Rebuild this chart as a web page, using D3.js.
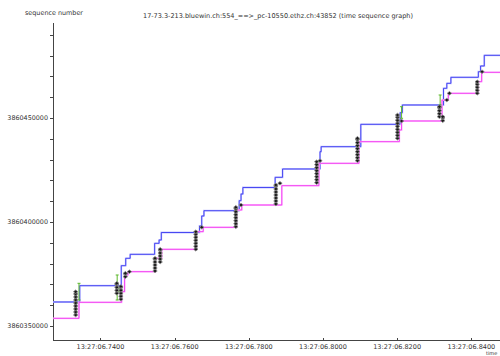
<!DOCTYPE html>
<html><head><meta charset="utf-8">
<script src="https://cdn.jsdelivr.net/npm/d3@7/dist/d3.min.js"></script>
<style>
html,body{margin:0;padding:0;background:#fff;}
svg{display:block;}
text{font-family:"DejaVu Sans",sans-serif;fill:#333;}
</style></head>
<body>
<svg id="c" width="500" height="356"></svg>
<script>
// ---- data (time = seconds within 13:27, sequence numbers) ----
const titleText = "17-73.3-213.bluewin.ch:554_==>_pc-10550.ethz.ch:43852 (time sequence graph)";
const yAxisTitle = "sequence number";
const xAxisTitle = "time";

const xTickValues = [6.74, 6.76, 6.78, 6.80, 6.82, 6.84];
const xTickLabels = ["13:27:06.7400","13:27:06.7600","13:27:06.7800","13:27:06.8000","13:27:06.8200","13:27:06.8400"];
const yTickValues = [3860350000, 3860400000, 3860450000];
const yTickLabels = ["3860350000","3860400000","3860450000"];
const yMinorStep = 10000;

// receive window (blue) step line: [time, seq]
const windowLine = [
 [6.7272,3860361540],[6.7344,3860369380],[6.7456,3860378990],[6.7468,3860382550],
 [6.7480,3860384470],[6.7546,3860389760],[6.7558,3860391350],[6.7564,3860394950],
 [6.7667,3860398080],[6.7673,3860402890],[6.7679,3860405430],[6.7774,3860410240],
 [6.7779,3860413460],[6.7784,3860416590],[6.7871,3860421490],[6.7891,3860425480],
 [6.7992,3860433800],[6.7995,3860436200],[6.8102,3860446970],[6.8208,3860452550],
 [6.8214,3860456250],[6.8325,3860464280],[6.8334,3860466680],[6.8345,3860469570],
 [6.8419,3860472260],[6.8425,3860475000],[6.8435,3860480140],[6.8478,3860480140]
];
// ack line (magenta) step line: [time, seq]
const ackLine = [
 [6.7272,3860353700],[6.7342,3860361390],[6.7457,3860366490],[6.7465,3860374520],
 [6.7474,3860376110],[6.7548,3860382550],[6.7565,3860386880],[6.7658,3860395340],
 [6.7677,3860397450],[6.7767,3860405770],[6.7781,3860408170],[6.7889,3860417450],
 [6.7989,3860428220],[6.8097,3860438610],[6.8206,3860444230],[6.8212,3860448560],
 [6.8321,3860458650],[6.8338,3860461880],[6.8419,3860467450],[6.8428,3860471970],
 [6.8478,3860471970]
];
// data segment bursts (black): [time, lowSeq, highSeq]
const segmentBursts = [
 [6.7333,3860355290,3860366490],[6.7444,3860365720,3860370530],[6.7455,3860362840,3860369000],
 [6.7467,3860373700,3860375340],[6.7478,3860376110,3860376110],[6.7547,3860376440,3860382550],
 [6.7561,3860380770,3860386880],[6.7657,3860386880,3860395340],[6.7673,3860397450,3860397450],
 [6.7765,3860397740,3860407070],[6.7779,3860408170,3860408170],[6.7873,3860408650,3860417790],
 [6.7884,3860418610,3860418610],[6.7983,3860418890,3860428990],[6.7992,3860429470,3860429470],
 [6.8093,3860429470,3860440240],[6.8201,3860440240,3860451440],[6.8212,3860448560,3860448560],
 [6.8314,3860450630,3860455430],[6.8323,3860448700,3860450630],[6.8334,3860458650,3860458650],
 [6.8341,3860461880,3860461880],[6.8416,3860461880,3860467450],[6.8429,3860472260,3860472260]
];
const segmentSize = 1448;
// SACK blocks (green): [time, lowSeq, highSeq]
const sackBlocks = [
 [6.7342,3860362500,3860370530],[6.7445,3860362500,3860374520],[6.7451,3860366500,3860368000],
 [6.8212,3860449860,3860455430],[6.8316,3860456250,3860461060],[6.8322,3860448900,3860449900]
];

// ---- drawing ----
const svg = d3.select("#c");
const plotL = 53, plotR = 500, plotT = 23, plotB = 340;
const x = d3.scaleLinear().domain([6.72719, 6.84774]).range([plotL, plotR]);
const y = d3.scaleLinear().domain([3860343270, 3860495670]).range([plotB, plotT]);

// titles
svg.append("text").attr("x", 278).attr("y", 17.5).attr("text-anchor","middle")
  .style("font-size","6.6px").attr("textLength",270).attr("lengthAdjust","spacingAndGlyphs").text(titleText);
svg.append("text").attr("x", 25).attr("y", 15).style("font-size","6.6px")
  .attr("textLength",58).attr("lengthAdjust","spacingAndGlyphs").text(yAxisTitle);
svg.append("text").attr("x", 486).attr("y", 355.3).style("font-size","5px").text(xAxisTitle);

// axes
const ax = svg.append("g").attr("stroke","#444").attr("stroke-width",1).attr("shape-rendering","crispEdges");
ax.append("line").attr("x1",plotL+0.5).attr("x2",plotL+0.5).attr("y1",plotT).attr("y2",plotB+0.5);
ax.append("line").attr("x1",plotL).attr("x2",plotR).attr("y1",plotB+0.5).attr("y2",plotB+0.5);

const minorY = d3.range(Math.ceil(y.domain()[0]/yMinorStep)*yMinorStep, y.domain()[1], yMinorStep);
ax.selectAll(".ym").data(minorY).join("line")
  .attr("x1",plotL-3).attr("x2",plotL).attr("y1",d=>Math.round(y(d))+0.5).attr("y2",d=>Math.round(y(d))+0.5);
svg.selectAll(".yl").data(yTickValues).join("text")
  .attr("x",48).attr("y",d=>y(d)+2.4).attr("text-anchor","end").style("font-size","6.4px")
  .text((d,i)=>yTickLabels[i]);

ax.selectAll(".xt").data(xTickValues).join("line")
  .attr("x1",d=>Math.round(x(d))+0.5).attr("x2",d=>Math.round(x(d))+0.5).attr("y1",plotB-2).attr("y2",plotB+1);
svg.selectAll(".xl").data(xTickValues).join("text")
  .attr("x",d=>x(d)).attr("y",349).attr("text-anchor","middle").style("font-size","6.5px")
  .text((d,i)=>xTickLabels[i]);

const plot = svg.append("g");
const stepLine = d3.line().x(d=>x(d[0])).y(d=>y(d[1])).curve(d3.curveStepAfter);

// window line (blue) with light halo
plot.append("path").datum(windowLine).attr("d",stepLine).attr("fill","none")
  .attr("stroke","#c4c4ff").attr("stroke-width",1.8);
plot.append("path").datum(windowLine).attr("d",stepLine).attr("fill","none")
  .attr("stroke","#3a3af0").attr("stroke-width",0.9);

// ack line (magenta)
plot.append("path").datum(ackLine).attr("d",stepLine).attr("fill","none")
  .attr("stroke","#ffc4ff").attr("stroke-width",1.8);
plot.append("path").datum(ackLine).attr("d",stepLine).attr("fill","none")
  .attr("stroke","#f032f0").attr("stroke-width",0.9);

// SACK blocks (green)
const sg = plot.append("g").attr("stroke","#5cb82a").attr("stroke-width",1);
sackBlocks.forEach(s=>{
  const xx = x(s[0]), y1 = y(s[1]), y2 = y(s[2]);
  sg.append("line").attr("x1",xx).attr("x2",xx).attr("y1",y1).attr("y2",y2);
  sg.append("line").attr("x1",xx-1.5).attr("x2",xx+1.5).attr("y1",y1).attr("y2",y1);
  sg.append("line").attr("x1",xx-1.5).attr("x2",xx+1.5).attr("y1",y2).attr("y2",y2);
});

// data segment bursts (black diamonds chains)
const bg = plot.append("g");
segmentBursts.forEach(b=>{
  const xx = x(b[0]);
  bg.append("line").attr("x1",xx).attr("x2",xx).attr("y1",y(b[1])).attr("y2",y(b[2]))
    .attr("stroke","#999").attr("stroke-width",3.2);
  bg.append("line").attr("x1",xx).attr("x2",xx).attr("y1",y(b[1])).attr("y2",y(b[2]))
    .attr("stroke","#111").attr("stroke-width",1.3);
  const marks = d3.range(b[1], b[2] + 1, segmentSize);
  if (marks[marks.length-1] < b[2]) marks.push(b[2]);
  bg.selectAll(null).data(marks).join("path")
    .attr("d",d=>{const yy=y(d);return `M${xx-2.2},${yy}L${xx},${yy-1.8}L${xx+2.2},${yy}L${xx},${yy+1.8}Z`;})
    .attr("fill","#1a1a1a").attr("stroke","#8a8a8a").attr("stroke-width",0.8);
});
</script>
</body></html>
